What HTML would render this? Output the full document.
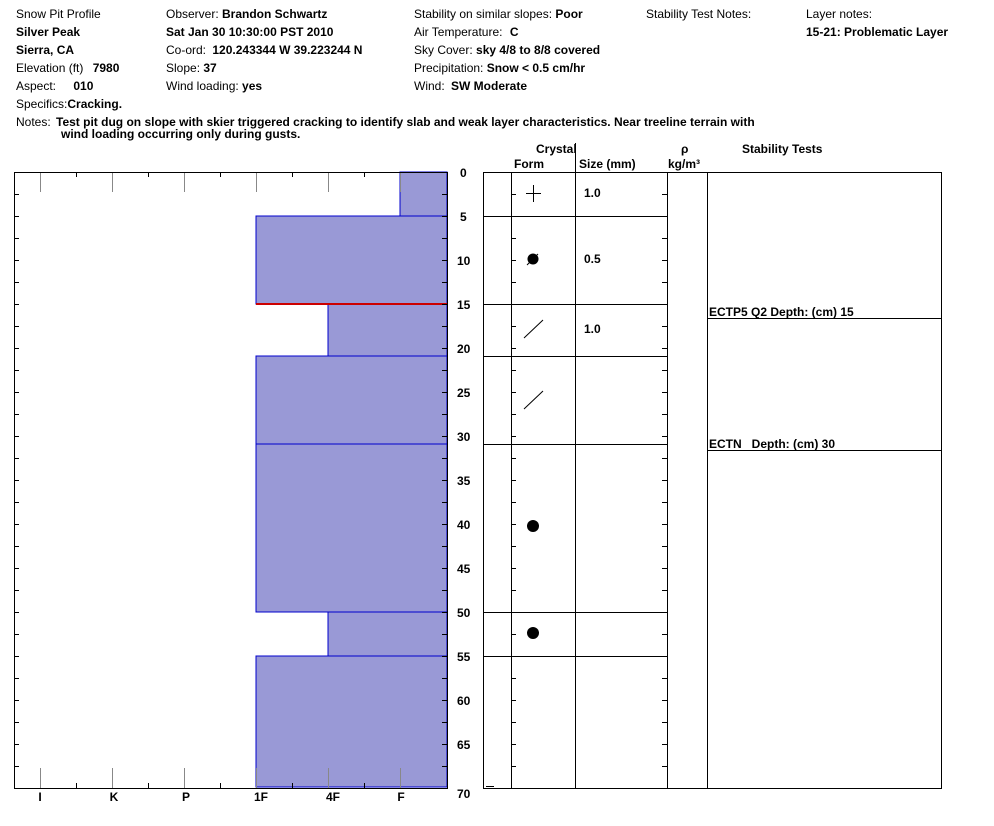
<!DOCTYPE html>
<html><head><meta charset="utf-8"><style>
html,body{margin:0;padding:0;background:#fff;}
svg{display:block;font-family:"Liberation Sans",Arial,sans-serif;font-size:12px;}
.b{font-weight:bold;}
</style></head><body>
<svg width="994" height="826" viewBox="0 0 994 826" xmlns="http://www.w3.org/2000/svg">
<g fill="#000">
<text x="16" y="18">Snow Pit Profile</text>
<text x="16" y="36" class="b">Silver Peak</text>
<text x="16" y="54" class="b">Sierra, CA</text>
<text x="16" y="72">Elevation (ft) <tspan class="b" dx="6">7980</tspan></text>
<text x="16" y="90">Aspect: <tspan class="b" dx="14">010</tspan></text>
<text x="16" y="108">Specifics:<tspan class="b">Cracking.</tspan></text>
<text x="16" y="126">Notes: <tspan class="b" dx="2">Test pit dug on slope with skier triggered cracking to identify slab and weak layer characteristics. Near treeline terrain with</tspan></text>
<text x="61" y="138" class="b">wind loading occurring only during gusts.</text>
<text x="166" y="18">Observer: <tspan class="b">Brandon Schwartz</tspan></text>
<text x="166" y="36" class="b">Sat Jan 30 10:30:00 PST 2010</text>
<text x="166" y="54">Co-ord: <tspan class="b" dx="3">120.243344 W 39.223244 N</tspan></text>
<text x="166" y="72">Slope: <tspan class="b">37</tspan></text>
<text x="166" y="90">Wind loading: <tspan class="b">yes</tspan></text>
<text x="414" y="18">Stability on similar slopes: <tspan class="b">Poor</tspan></text>
<text x="414" y="36">Air Temperature: <tspan class="b" dx="4">C</tspan></text>
<text x="414" y="54">Sky Cover: <tspan class="b">sky 4/8 to 8/8 covered</tspan></text>
<text x="414" y="72">Precipitation: <tspan class="b">Snow &lt; 0.5 cm/hr</tspan></text>
<text x="414" y="90">Wind: <tspan class="b" dx="3">SW Moderate</tspan></text>
<text x="646" y="18">Stability Test Notes:</text>
<text x="806" y="18">Layer notes:</text>
<text x="806" y="36" class="b">15-21: Problematic Layer</text>
</g>
<!-- bars -->
<g fill="#9999d6" stroke="#0000cc" stroke-width="1">
<rect x="400" y="172" width="47" height="44"/>
<rect x="256" y="216" width="191" height="88"/>
<rect x="328" y="304" width="119" height="52"/>
<rect x="256" y="356" width="191" height="88"/>
<rect x="256" y="444" width="191" height="168"/>
<rect x="328" y="612" width="119" height="44"/>
<rect x="256" y="656" width="191" height="131"/>
</g>
<line x1="256" y1="304" x2="447" y2="304" stroke="#cc0000" stroke-width="2"/>
<!-- grid -->
<g stroke="#888" stroke-width="1">
<path d="M40.5 172V192M112.5 172V192M184.5 172V192M256.5 172V192M328.5 172V192M400.5 172V192M40.5 768V788M112.5 768V788M184.5 768V788M256.5 768V788M328.5 768V788M400.5 768V788"/>
</g>
<g stroke="#000" stroke-width="1">
<path d="M76.5 172V177M148.5 172V177M220.5 172V177M292.5 172V177M364.5 172V177M76.5 783V788M148.5 783V788M220.5 783V788M292.5 783V788M364.5 783V788"/>
</g>
<rect x="14.5" y="172.5" width="433" height="616" fill="none" stroke="#000"/>
<g stroke="#000" id="tk">
<path d="M14 194.5h5M14 216.5h5M14 238.5h5M14 260.5h5M14 282.5h5M14 304.5h5M14 326.5h5M14 348.5h5M14 370.5h5M14 392.5h5M14 414.5h5M14 436.5h5M14 458.5h5M14 480.5h5M14 502.5h5M14 524.5h5M14 546.5h5M14 568.5h5M14 590.5h5M14 612.5h5M14 634.5h5M14 656.5h5M14 678.5h5M14 700.5h5M14 722.5h5M14 744.5h5M14 766.5h5"/>
<path transform="translate(428,0)" d="M14 194.5h5M14 216.5h5M14 238.5h5M14 260.5h5M14 282.5h5M14 304.5h5M14 326.5h5M14 348.5h5M14 370.5h5M14 392.5h5M14 414.5h5M14 436.5h5M14 458.5h5M14 480.5h5M14 502.5h5M14 524.5h5M14 546.5h5M14 568.5h5M14 590.5h5M14 612.5h5M14 634.5h5M14 656.5h5M14 678.5h5M14 700.5h5M14 722.5h5M14 744.5h5M14 766.5h5"/>
<path transform="translate(497,0)" d="M14 194.5h5M14 216.5h5M14 238.5h5M14 260.5h5M14 282.5h5M14 304.5h5M14 326.5h5M14 348.5h5M14 370.5h5M14 392.5h5M14 414.5h5M14 436.5h5M14 458.5h5M14 480.5h5M14 502.5h5M14 524.5h5M14 546.5h5M14 568.5h5M14 590.5h5M14 612.5h5M14 634.5h5M14 656.5h5M14 678.5h5M14 700.5h5M14 722.5h5M14 744.5h5M14 766.5h5"/>
<path transform="translate(648,0)" d="M14 194.5h5M14 216.5h5M14 238.5h5M14 260.5h5M14 282.5h5M14 304.5h5M14 326.5h5M14 348.5h5M14 370.5h5M14 392.5h5M14 414.5h5M14 436.5h5M14 458.5h5M14 480.5h5M14 502.5h5M14 524.5h5M14 546.5h5M14 568.5h5M14 590.5h5M14 612.5h5M14 634.5h5M14 656.5h5M14 678.5h5M14 700.5h5M14 722.5h5M14 744.5h5M14 766.5h5"/>
</g>
<g class="b" text-anchor="middle" fill="#000">
<text x="40" y="801">I</text><text x="114" y="801">K</text><text x="186" y="801">P</text>
<text x="261" y="801">1F</text><text x="333" y="801">4F</text><text x="401" y="801">F</text>
</g>
<g class="b" fill="#000">
<text x="460" y="177">0</text><text x="460" y="221">5</text><text x="457" y="265">10</text><text x="457" y="309">15</text>
<text x="457" y="353">20</text><text x="457" y="397">25</text><text x="457" y="441">30</text><text x="457" y="485">35</text>
<text x="457" y="529">40</text><text x="457" y="573">45</text><text x="457" y="617">50</text><text x="457" y="661">55</text>
<text x="457" y="705">60</text><text x="457" y="749">65</text><text x="457" y="798">70</text>
</g>
<!-- table -->
<g class="b" fill="#000">
<text x="536" y="153">Crystal</text>
<text x="514" y="168">Form</text>
<text x="579" y="168">Size (mm)</text>
<text x="681" y="153">ρ</text>
<text x="668" y="168">kg/m³</text>
<text x="742" y="153">Stability Tests</text>
</g>
<line x1="575.5" y1="143" x2="575.5" y2="172" stroke="#000"/>
<g fill="none" stroke="#000">
<rect x="483.5" y="172.5" width="458" height="616"/>
<path d="M511.5 172V788M575.5 172V788M667.5 172V788M707.5 172V788"/>
<path d="M483 216.5H667M483 304.5H667M483 356.5H667M483 444.5H667M483 612.5H667M483 656.5H667"/>
<path d="M707 318.5H941M707 450.5H941"/>
<path d="M486 786.5H494"/>
<path d="M526 193.5H541M533.5 185V202"/>
<path d="M527 265L538 254"/>
<path d="M524 338L543 320M524 409L543 391"/>
</g>
<circle cx="533" cy="259" r="5.5" fill="#000"/>
<circle cx="533" cy="526" r="6" fill="#000"/>
<circle cx="533" cy="633" r="6" fill="#000"/>
<g class="b" fill="#000">
<text x="584" y="197">1.0</text><text x="584" y="263">0.5</text><text x="584" y="333">1.0</text>
<text x="709" y="316">ECTP5 Q2 Depth: (cm) 15</text>
<text x="709" y="448">ECTN&#160;&#160; Depth: (cm) 30</text>
</g>
</svg>
</body></html>
